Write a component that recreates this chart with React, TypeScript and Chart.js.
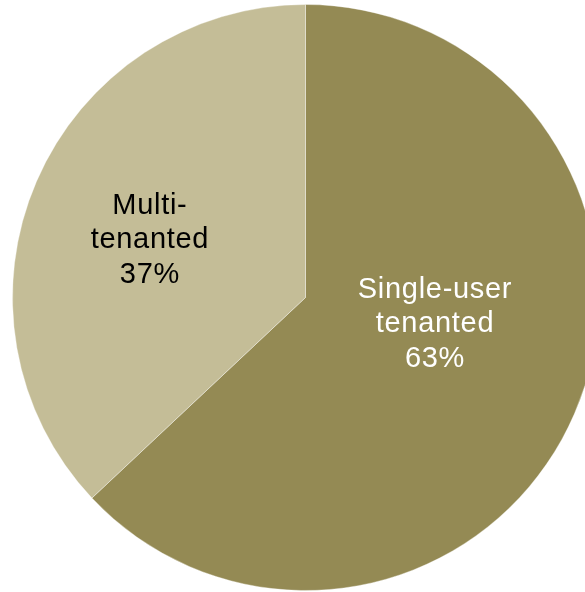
import React, { useEffect, useRef } from "react";
import { Chart, registerables } from "chart.js";

Chart.register(...registerables);

const categories = ["Single-user tenanted", "Multi-tenanted"];
const shares = [63, 37];
const labelLines = [
  ["Single-user", "tenanted", "63%"],
  ["Multi-", "tenanted", "37%"],
];
const sliceColors = ["#948A54", "#C4BD97"];
const labelColors = ["#FFFFFF", "#000000"];

const labelPlugin = {
  id: "sliceLabels",
  afterDatasetsDraw(chart: any, _args: any, opts: any) {
    const meta = chart.getDatasetMeta(0);
    const ctx = chart.ctx;
    ctx.save();
    ctx.font = "29px 'Liberation Sans', Arial, sans-serif";
    try {
      (ctx as any).letterSpacing = "0.7px";
    } catch (e) {}
    ctx.textAlign = "center";
    ctx.textBaseline = "alphabetic";
    meta.data.forEach((arc: any, i: number) => {
      const r = arc.outerRadius;
      const off = opts.offsets[i];
      const cx = arc.x + off[0] * r;
      const cy = arc.y + off[1] * r;
      const lines = labelLines[i];
      ctx.fillStyle = labelColors[i];
      const lh = 34.5;
      lines.forEach((ln, j) => {
        ctx.fillText(ln, cx, cy + (j - 1) * lh);
      });
    });
    ctx.restore();
  },
};

export default function App() {
  const ref = useRef<HTMLCanvasElement>(null);
  useEffect(() => {
    if (!ref.current) return;
    const chart = new Chart(ref.current, {
      type: "pie",
      data: {
        labels: categories,
        datasets: [
          {
            data: shares,
            backgroundColor: sliceColors,
            borderColor: "rgba(255,255,255,0.35)",
            borderWidth: 1,
          },
        ],
      },
      options: {
        animation: false,
        responsive: true,
        maintainAspectRatio: false,
        layout: { padding: 0 },
        plugins: {
          legend: { display: false },
          tooltip: { enabled: false },
          sliceLabels: {
            offsets: [
              [0.442, 0.118],
              [-0.531, -0.168],
            ],
          },
        } as any,
      },
      plugins: [labelPlugin],
    });
    return () => chart.destroy();
  }, []);
  return (
    <div
      style={{
        position: "fixed",
        left: 0,
        top: 0,
        width: 585,
        height: 592,
        overflow: "hidden",
        background: "#fff",
      }}
    >
      <div style={{ position: "absolute", left: 12, top: 4, width: 587, height: 587 }}>
        <canvas ref={ref} />
      </div>
    </div>
  );
}
